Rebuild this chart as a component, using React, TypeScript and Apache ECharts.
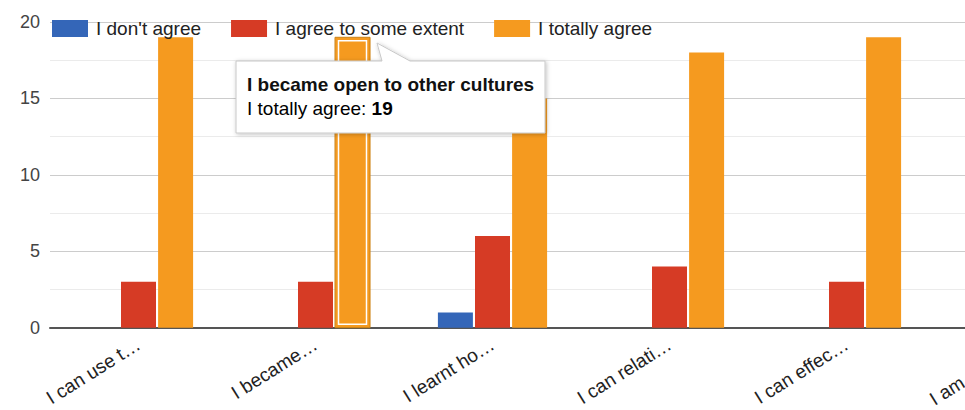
import React, { useEffect, useRef } from "react";
import * as echarts from "echarts";

const categories = ["I can use t…", "I became…", "I learnt ho…", "I can relati…", "I can effec…", "I am tolera…"];
const fullNames = [
  "I can use t…",
  "I became open to other cultures",
  "I learnt ho…",
  "I can relati…",
  "I can effec…",
  "I am tolera…",
];
const seriesNames = ["I don't agree", "I agree to some extent", "I totally agree"];
const dontAgree = [0, 0, 1, 0, 0, 0];
const someExtent = [3, 3, 6, 4, 3, 3];
const totallyAgree = [19, 19, 15, 18, 19, 19];
const yTicks = [0, 5, 10, 15, 20];
const highlightIndex = 1;

const FONT = 'Arial, "Liberation Sans", sans-serif';
const colors = ["#3466b8", "#d63b25", "#f59a1f"];

export default function App() {
  const ref = useRef<HTMLDivElement>(null);
  useEffect(() => {
    if (!ref.current) return;
    const chart = echarts.init(ref.current, undefined, { renderer: "svg" });
    const barW = 35;
    const gap = 2;
    chart.setOption({
      animation: false,
      textStyle: { fontFamily: FONT },
      legend: {
        data: seriesNames,
        left: 52,
        top: 19,
        padding: 0,
        icon: "rect",
        itemWidth: 36,
        itemHeight: 17,
        itemGap: 30,
        textStyle: { fontSize: 19, color: "#222", fontFamily: FONT, padding: [0, 0, 0, 3] },
      },
      grid: { left: 50, top: 22, width: 1062, height: 306 },
      xAxis: {
        type: "category",
        data: categories,
        axisTick: { show: false },
        axisLine: { show: true, lineStyle: { color: "#555", width: 2 } },
        axisLabel: {
          rotate: 32,
          margin: 15,
          fontSize: 19,
          color: "#222",
          fontFamily: FONT,
          interval: 0,
        },
      },
      yAxis: {
        type: "value",
        min: yTicks[0],
        max: yTicks[yTicks.length - 1],
        interval: 5,
        axisLine: { show: false },
        axisTick: { show: false },
        axisLabel: { fontSize: 18, color: "#444", margin: 10, fontFamily: FONT },
        splitLine: { lineStyle: { color: "#cccccc", width: 1 } },
        minorTick: { show: false, splitNumber: 2 },
        minorSplitLine: { show: true, lineStyle: { color: "#ebebeb", width: 1 } },
      },
      series: [
        {
          name: seriesNames[0],
          type: "bar",
          data: dontAgree,
          barWidth: barW,
          barGap: "6%",
          itemStyle: { color: colors[0] },
        },
        {
          name: seriesNames[1],
          type: "bar",
          data: someExtent,
          barWidth: barW,
          barGap: "6%",
          itemStyle: { color: colors[1] },
        },
        {
          name: seriesNames[2],
          type: "bar",
          data: totallyAgree,
          barWidth: barW,
          barGap: "6%",
          itemStyle: { color: colors[2] },
        },
        {
          name: "highlight",
          type: "custom",
          z: 5,
          data: [[highlightIndex, totallyAgree[highlightIndex]]],
          renderItem: (params: any, api: any) => {
            const idx = api.value(0);
            const val = api.value(1);
            const top = api.coord([idx, val]);
            const base = api.coord([idx, 0]);
            const cx = top[0] + barW + gap;
            return {
              type: "group",
              children: [
                {
                  type: "rect",
                  shape: { x: cx - barW / 2, y: top[1], width: barW, height: base[1] - top[1] },
                  style: { fill: "none", stroke: "#c98217", lineWidth: 1 },
                },
                {
                  type: "rect",
                  shape: { x: cx - barW / 2 + 3.5, y: top[1] + 3.5, width: barW - 7, height: base[1] - top[1] - 7 },
                  style: { fill: "none", stroke: "#ffffff", lineWidth: 1.5 },
                },
              ],
            };
          },
        },
      ],
      graphic: [
        {
          type: "polygon",
          z: 100,
          shape: {
            points: [
              [236, 61],
              [382, 61],
              [377, 43],
              [410, 61],
              [545, 61],
              [545, 133],
              [236, 133],
            ],
          },
          style: {
            fill: "#ffffff",
            stroke: "#c8c8c8",
            lineWidth: 1,
            shadowBlur: 4,
            shadowColor: "rgba(0,0,0,0.25)",
            shadowOffsetX: 1,
            shadowOffsetY: 1,
          },
        },
        {
          type: "text",
          z: 101,
          x: 247,
          y: 84,
          style: {
            text: fullNames[highlightIndex],
            font: `bold 19px ${FONT}`,
            fill: "#111",
            verticalAlign: "middle",
          },
        },
        {
          type: "text",
          z: 101,
          x: 247,
          y: 108,
          style: {
            text: `{n|${seriesNames[2]}: }{b|${totallyAgree[highlightIndex]}}`,
            verticalAlign: "middle",
            rich: {
              n: { fontSize: 19, fontFamily: FONT, color: "#222" },
              b: { fontSize: 19, fontFamily: FONT, color: "#111", fontWeight: "bold" },
            },
          },
        },
      ],
    });
    return () => chart.dispose();
  }, []);
  return (
    <div
      style={{
        position: "fixed",
        left: 0,
        top: 0,
        width: 965,
        height: 410,
        overflow: "hidden",
        background: "#fff",
      }}
    >
      <div ref={ref} style={{ width: 1130, height: 410 }} />
    </div>
  );
}
